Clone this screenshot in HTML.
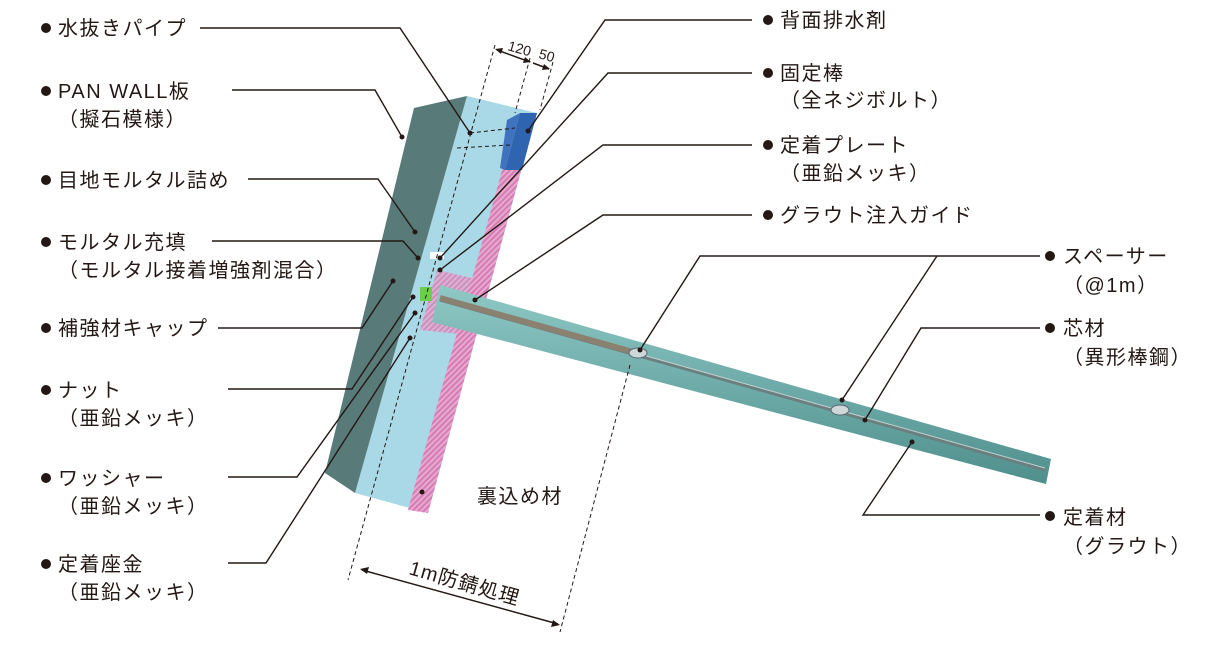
<!DOCTYPE html>
<html><head><meta charset="utf-8"><style>
html,body{margin:0;padding:0;background:#fff;}
svg text{font-family:"Liberation Sans","Noto Sans CJK JP",sans-serif;font-size:20px;letter-spacing:1.5px;fill:#231815;}
</style></head><body>
<svg width="1208" height="650" viewBox="0 0 1208 650" xmlns="http://www.w3.org/2000/svg">
<defs>
<pattern id="pk" width="4" height="4" patternUnits="userSpaceOnUse" patternTransform="rotate(45)">
<rect width="4" height="4" fill="#e8a9cf"/><rect width="2" height="4" fill="#d47cb3"/>
</pattern>
<linearGradient id="rod" x1="0" y1="0" x2="0" y2="1">
<stop offset="0" stop-color="#8fc9c6"/><stop offset="1" stop-color="#4f8f8c"/>
</linearGradient>
</defs>
<polygon points="467,96 537,113 428,513 355,493" fill="#a9d8e6"/>
<polygon points="414,108 467,96 355,493 325,473" fill="#587a78"/>
<polygon points="503,167 522,167 428,513 408,510" fill="url(#pk)"/>
<polygon points="520,113 537,113 522,170 505,170" fill="#2f64b0"/>
<polygon points="507,120 520,113 505,170 500,168" fill="#3f73bd"/>
<polygon points="437,270 480,280 470,335 420,330" fill="url(#pk)" opacity="0.8"/>
<polygon points="440,285 1051,459 1046,484 432,322" fill="url(#rod)"/>
<line x1="440" y1="300" x2="1045" y2="470" stroke="#6a7f80" stroke-width="3"/>
<line x1="440" y1="298" x2="1045" y2="468" stroke="#c2cfcf" stroke-width="1"/>
<line x1="440" y1="298" x2="640" y2="354" stroke="#8a8170" stroke-width="6"/>
<rect x="420" y="287" width="12" height="14" fill="#6ad04a"/>
<rect x="430" y="252" width="14" height="7" fill="#fff"/>
<ellipse cx="638" cy="353" rx="9" ry="5" fill="#cfd8d8" stroke="#567" stroke-width="1"/>
<ellipse cx="840" cy="410" rx="9" ry="5" fill="#cfd8d8" stroke="#567" stroke-width="1"/>
<g stroke="#231815" stroke-width="1" stroke-dasharray="4,3" fill="none">
<line x1="495" y1="45" x2="348" y2="580"/>
<line x1="530" y1="58" x2="515" y2="113"/>
<line x1="553" y1="62" x2="540" y2="110"/>
<line x1="630" y1="365" x2="560" y2="632"/>
<line x1="470" y1="133" x2="515" y2="128"/>
<line x1="457" y1="148" x2="510" y2="145"/>
</g>
<g stroke="#231815" stroke-width="1.5" fill="none">
<line x1="497" y1="50" x2="530" y2="62"/>
<line x1="533" y1="63" x2="549" y2="69"/>
<line x1="362" y1="570" x2="558" y2="624"/>
</g>
<g fill="#231815">
<polygon points="495,49 503,48 501,54"/>
<polygon points="531,62 523,63 525,57"/>
<polygon points="550,69 542,70 544,64"/>
<polygon points="360,569 369,567 367,574"/>
<polygon points="560,625 551,627 553,620"/>
</g>
<text x="507" y="50" style="font-size:14px;letter-spacing:0" transform="rotate(16 507 50)">120</text>
<text x="538" y="58" style="font-size:14px;letter-spacing:0" transform="rotate(16 538 58)">50</text>
<text x="408" y="574" transform="rotate(16 408 574)" style="font-size:20px;letter-spacing:1px">1m防錆処理</text>
<text x="477" y="503">裏込め材</text>
<g stroke="#231815" stroke-width="1.4" fill="none">
<polyline points="200,28 400,28 470,133"/>
<polyline points="232,90 375,90 402,137"/>
<polyline points="248,179 378,179 415,232"/>
<polyline points="212,241 403,241 418,258"/>
<polyline points="218,328 362,328 393,281"/>
<polyline points="228,389 352,389 413,297"/>
<polyline points="228,477 297,477 415,313"/>
<polyline points="228,563 266,563 410,338"/>
<polyline points="752,20 605,20 528,131"/>
<polyline points="752,73 608,73 440,258"/>
<polyline points="752,145 603,145 440,270"/>
<polyline points="752,215 603,215 475,300"/>
<polyline points="1040,256 700,256 640,350"/>
<polyline points="937,256 842,400"/>
<polyline points="1040,328 921,328 865,420"/>
<polyline points="1040,515 863,515 912,442"/>
</g>
<g fill="#231815">
<circle cx="470" cy="133" r="2.5"/><circle cx="402" cy="137" r="2.5"/><circle cx="415" cy="232" r="2.5"/>
<circle cx="418" cy="258" r="2.5"/><circle cx="393" cy="281" r="2.5"/><circle cx="413" cy="297" r="2.5"/>
<circle cx="415" cy="313" r="2.5"/><circle cx="410" cy="338" r="2.5"/><circle cx="528" cy="131" r="2.5"/>
<circle cx="440" cy="258" r="2.5"/><circle cx="440" cy="270" r="2.5"/><circle cx="475" cy="300" r="2.5"/>
<circle cx="640" cy="350" r="2.5"/><circle cx="842" cy="400" r="2.5"/><circle cx="865" cy="420" r="2.5"/>
<circle cx="912" cy="442" r="2.5"/><circle cx="422" cy="492" r="2.5"/>
<circle cx="46" cy="28" r="5"/><circle cx="46" cy="91" r="5"/><circle cx="46" cy="180" r="5"/>
<circle cx="46" cy="242" r="5"/><circle cx="46" cy="328" r="5"/><circle cx="46" cy="390" r="5"/>
<circle cx="46" cy="478" r="5"/><circle cx="46" cy="564" r="5"/>
<circle cx="768" cy="20" r="5"/><circle cx="768" cy="73" r="5"/><circle cx="768" cy="145" r="5"/>
<circle cx="768" cy="215" r="5"/>
<circle cx="1050" cy="256" r="5"/><circle cx="1050" cy="328" r="5"/><circle cx="1050" cy="516" r="5"/>
</g>
<g>
<text x="58" y="35">水抜きパイプ</text>
<text x="58" y="98">PAN WALL板</text>
<text x="58" y="126">（擬石模様）</text>
<text x="58" y="187">目地モルタル詰め</text>
<text x="58" y="249">モルタル充填</text>
<text x="58" y="277">（モルタル接着増強剤混合）</text>
<text x="58" y="335">補強材キャップ</text>
<text x="58" y="397">ナット</text>
<text x="58" y="425">（亜鉛メッキ）</text>
<text x="58" y="485">ワッシャー</text>
<text x="58" y="513">（亜鉛メッキ）</text>
<text x="58" y="571">定着座金</text>
<text x="58" y="599">（亜鉛メッキ）</text>
<text x="780" y="27">背面排水剤</text>
<text x="780" y="80">固定棒</text>
<text x="780" y="107">（全ネジボルト）</text>
<text x="780" y="152">定着プレート</text>
<text x="780" y="180">（亜鉛メッキ）</text>
<text x="780" y="222">グラウト注入ガイド</text>
<text x="1063" y="263">スペーサー</text>
<text x="1063" y="292">（@1m）</text>
<text x="1063" y="335">芯材</text>
<text x="1063" y="364">（異形棒鋼）</text>
<text x="1063" y="524">定着材</text>
<text x="1063" y="553">（グラウト）</text>
</g>
</svg>
</body></html>
